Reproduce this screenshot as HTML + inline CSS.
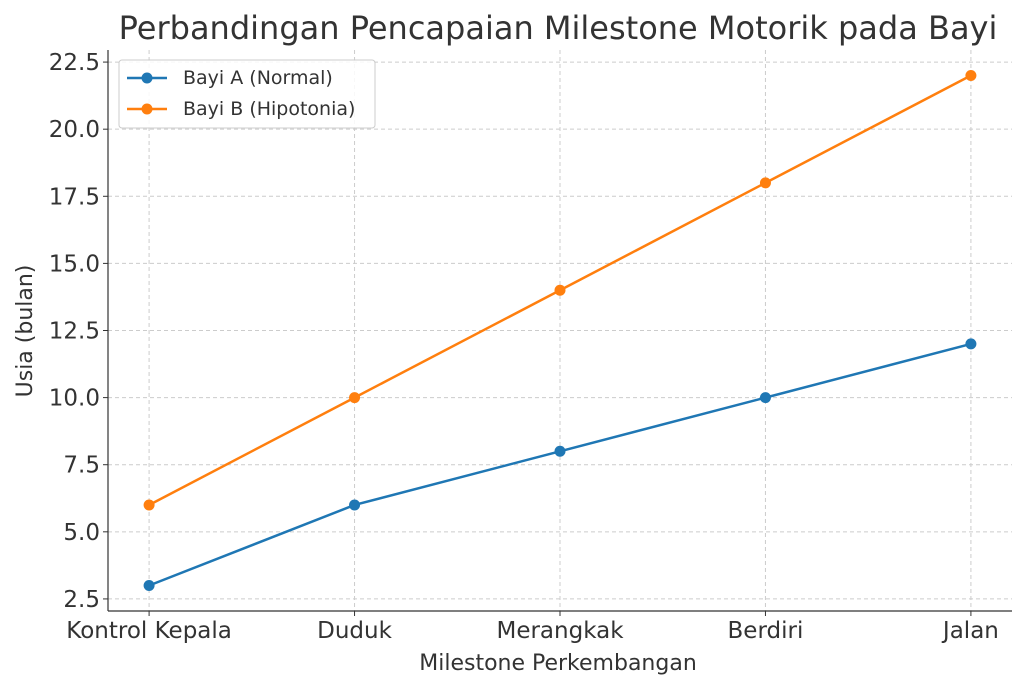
<!DOCTYPE html>
<html><head><meta charset="utf-8"><style>
body{margin:0;background:#fff}
svg{font-family:"DejaVu Sans","Liberation Sans",sans-serif}
</style></head><body>
<svg id="chart" width="1024" height="689" viewBox="0 0 1024 689">
<text x="558" y="39" font-size="32" fill="#333" text-anchor="middle">Perbandingan Pencapaian Milestone Motorik pada Bayi</text>
<g id="grid"></g>
<g id="yticks"></g>
<g id="xticks"></g>
<line x1="108" y1="50" x2="108" y2="611" stroke="#333" stroke-width="1.2"/>
<line x1="108" y1="611" x2="1012" y2="611" stroke="#333" stroke-width="1.2"/>
<g id="series"></g>
<text x="558" y="670" font-size="22" fill="#333" text-anchor="middle">Milestone Perkembangan</text>
<text transform="translate(32,331) rotate(-90)" font-size="22" fill="#333" text-anchor="middle">Usia (bulan)</text>
<g>
<rect x="119" y="60" width="256" height="68" rx="3" fill="#fff" fill-opacity="0.85" stroke="#ccc"/>
<g>
<line x1="127" y1="78" x2="167" y2="78" stroke="#1f77b4" stroke-width="2.5"/><circle cx="147" cy="78" r="5.5" fill="#1f77b4"/>
<text x="183" y="84" font-size="19" fill="#333">Bayi A (Normal)</text></g>
<g>
<line x1="127" y1="109" x2="167" y2="109" stroke="#ff7f0e" stroke-width="2.5"/><circle cx="147" cy="109" r="5.5" fill="#ff7f0e"/>
<text x="183" y="115" font-size="19" fill="#333">Bayi B (Hipotonia)</text></g>
</g>
</svg>
<script>
const categories=["Kontrol Kepala","Duduk","Merangkak","Berdiri","Jalan"];
const seriesA=[3,6,8,10,12];
const seriesB=[6,10,14,18,22];
const yTickLabels=["2.5","5.0","7.5","10.0","12.5","15.0","17.5","20.0","22.5"];
const NS="http://www.w3.org/2000/svg";
const allV=seriesA.concat(seriesB);
const vmin=Math.min(...allV),vmax=Math.max(...allV),pad=(vmax-vmin)*0.05;
const y0=vmin-pad,y1=vmax+pad;
function ys(v){return 611-(v-y0)/(y1-y0)*561;}
function xs(i){const lo=-0.2,hi=categories.length-1+0.2;return 108+(i-lo)/(hi-lo)*904;}
function mk(t,a,p){const e=document.createElementNS(NS,t);for(const k in a)e.setAttribute(k,a[k]);p.appendChild(e);return e;}
const grid=document.getElementById('grid'),yt=document.getElementById('yticks'),xt=document.getElementById('xticks'),sg=document.getElementById('series');
yTickLabels.forEach(l=>{const v=parseFloat(l),y=ys(v);
const g=mk('line',{x1:108,x2:1012,y1:y,y2:y,stroke:'#ccc','stroke-dasharray':'4,3','stroke-width':1},grid);


mk('line',{x1:103,x2:108,y1:y,y2:y,stroke:'#333'},yt);
const t=mk('text',{x:100,y:y+8,'font-size':23,fill:'#333','text-anchor':'end'},yt);t.textContent=l;

});
categories.forEach((c,i)=>{const x=xs(i);
const g=mk('line',{x1:x,x2:x,y1:50,y2:611,stroke:'#ccc','stroke-dasharray':'4,3','stroke-width':1},grid);


mk('line',{x1:x,x2:x,y1:611,y2:616,stroke:'#333'},xt);
const t=mk('text',{x:x,y:638,'font-size':23,fill:'#333','text-anchor':'middle'},xt);t.textContent=c;

});
[[seriesA,'#1f77b4','bayi-a'],[seriesB,'#ff7f0e','bayi-b']].forEach(([d,col,n])=>{
const pl=mk('polyline',{points:d.map((v,i)=>xs(i)+','+ys(v)).join(' '),fill:'none',stroke:col,'stroke-width':2.5},sg);


d.forEach((v,i)=>{const c=mk('circle',{cx:xs(i),cy:ys(v),r:5.5,fill:col},sg);

});});
</script>
</body></html>
